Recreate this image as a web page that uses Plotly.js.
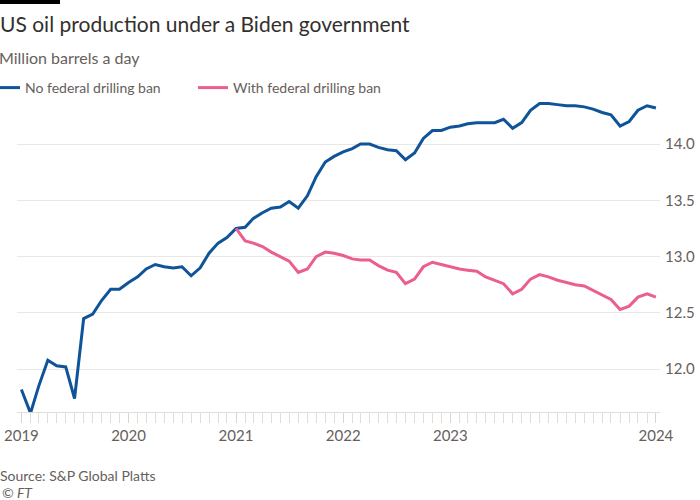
<!DOCTYPE html>
<html>
<head>
<meta charset="utf-8">
<script src="https://cdn.plot.ly/plotly-3.0.1.min.js"></script>
<style>
  html, body { margin: 0; padding: 0; background: #ffffff; }
  #chart { width: 700px; height: 500px; }
</style>
</head>
<body>
<div id="chart"></div>
<script>
// Monthly US crude output, million barrels a day, Jan 2019 - Dec 2024
const years = [2019, 2020, 2021, 2022, 2023, 2024];
const seriesNames = ['No federal drilling ban', 'With federal drilling ban'];

const noBan = [
  11.82, 11.61, 11.85, 12.08, 12.03, 12.02, 11.74, 12.45, 12.49, 12.61, 12.71, 12.71,
  12.77, 12.82, 12.89, 12.93, 12.91, 12.90, 12.91, 12.83, 12.90, 13.03, 13.12, 13.17,
  13.25, 13.26, 13.34, 13.39, 13.43, 13.44, 13.49, 13.43, 13.54, 13.71, 13.84, 13.89,
  13.93, 13.96, 14.00, 14.00, 13.97, 13.95, 13.94, 13.86, 13.92, 14.05, 14.12, 14.12,
  14.15, 14.16, 14.18, 14.19, 14.19, 14.19, 14.22, 14.14, 14.19, 14.30, 14.36, 14.36,
  14.35, 14.34, 14.34, 14.33, 14.31, 14.28, 14.26, 14.16, 14.20, 14.30, 14.34, 14.32
];

const withBan = [
  null, null, null, null, null, null, null, null, null, null, null, null,
  null, null, null, null, null, null, null, null, null, null, null, null,
  13.25, 13.14, 13.12, 13.09, 13.04, 13.00, 12.96, 12.86, 12.89, 13.00, 13.04, 13.03,
  13.01, 12.98, 12.97, 12.97, 12.92, 12.88, 12.86, 12.76, 12.80, 12.91, 12.95, 12.93,
  12.91, 12.89, 12.88, 12.87, 12.82, 12.79, 12.76, 12.67, 12.71, 12.80, 12.84, 12.82,
  12.79, 12.77, 12.75, 12.74, 12.70, 12.66, 12.62, 12.53, 12.56, 12.64, 12.67, 12.64
];

const yTickVals = [12.0, 12.5, 13.0, 13.5, 14.0];
const xTickVals = ['2019-01-01', '2020-01-01', '2021-01-01', '2022-01-01', '2023-01-01', '2024-12-01'];
const xTickText = ['2019', '2020', '2021', '2022', '2023', '2024'];

// one date per month, first of the month
const months = [];
years.forEach(function (y) {
  for (let m = 1; m <= 12; m++) {
    months.push(y + '-' + String(m).padStart(2, '0') + '-01');
  }
});

const FONT = 'Lato, "Open Sans", sans-serif';
const INK = '#33302e';
const GREY = '#66605c';
const GRID = '#ebe7e3';

const traces = [
  {
    x: months, y: noBan, name: seriesNames[0], type: 'scatter', mode: 'lines',
    line: { color: '#0f5499', width: 3 }, hoverinfo: 'skip'
  },
  {
    x: months, y: withBan, name: seriesNames[1], type: 'scatter', mode: 'lines',
    line: { color: '#eb5e8d', width: 3 }, connectgaps: false, hoverinfo: 'skip'
  }
];

const M = { l: 17, r: 40, t: 99, b: 88, autoexpand: false };
const plotW = 700 - M.l - M.r;
const plotH = 500 - M.t - M.b;
const px = function (x) { return (x - M.l) / plotW; };
const py = function (y) { return (500 - M.b - y) / plotH; };

const layout = {
  width: 700, height: 500,
  margin: M,
  paper_bgcolor: '#ffffff',
  plot_bgcolor: '#ffffff',
  font: { family: FONT, color: GREY, size: 15 },
  title: {
    text: 'US oil production under a Biden government',
    font: { family: FONT, size: 21, color: INK },
    x: 0, xref: 'container', xanchor: 'left',
    y: 1 - 25 / 500, yref: 'container', yanchor: 'middle'
  },
  showlegend: true,
  legend: {
    orientation: 'h',
    xref: 'paper', yref: 'paper',
    x: px(-15), xanchor: 'left',
    y: py(88), yanchor: 'middle',
    font: { family: FONT, size: 14, color: GREY },
    bgcolor: 'rgba(0,0,0,0)',
    entrywidth: 163, entrywidthmode: 'pixels',
    itemclick: false, itemdoubleclick: false
  },
  xaxis: {
    type: 'date',
    range: ['2018-12-17', '2024-12-15'],
    tickvals: xTickVals, ticktext: xTickText,
    ticks: 'outside', ticklen: 10, tickwidth: 1, tickcolor: '#d9d4cf',
    minor: { dtick: 'M1', tick0: '2019-01-01', ticks: 'outside', ticklen: 10, tickcolor: '#e2ddd8', showgrid: false },
    showgrid: false, zeroline: false,
    showline: true, linecolor: '#e2ddd8', linewidth: 1,
    tickfont: { family: FONT, size: 15, color: GREY },
    fixedrange: true
  },
  yaxis: {
    side: 'right',
    range: [11.62, 14.4],
    tickvals: yTickVals, tickformat: '.1f',
    ticks: '', showline: false, zeroline: false,
    showgrid: true, gridcolor: GRID, gridwidth: 1,
    ticklabelstandoff: 4,
    tickfont: { family: FONT, size: 15, color: GREY },
    fixedrange: true
  },
  shapes: [
    {
      type: 'rect', xref: 'paper', yref: 'paper',
      x0: px(0), x1: px(60), y0: py(4), y1: py(0),
      fillcolor: '#000000', line: { width: 0 }
    }
  ],
  annotations: [
    {
      text: 'Million barrels a day', xref: 'paper', yref: 'paper',
      x: px(0), y: py(57), xanchor: 'left', yanchor: 'middle', xshift: -3, showarrow: false,
      font: { family: FONT, size: 16, color: GREY }
    },
    {
      text: 'Source: S&P Global Platts', xref: 'paper', yref: 'paper',
      x: px(0), y: py(475), xanchor: 'left', yanchor: 'middle', xshift: -2, showarrow: false,
      font: { family: FONT, size: 14, color: GREY }
    },
    {
      text: '<i>© FT</i>', xref: 'paper', yref: 'paper',
      x: px(0), y: py(492), xanchor: 'left', yanchor: 'middle', xshift: 0, showarrow: false,
      font: { family: FONT, size: 14, color: GREY }
    }
  ]
};

Plotly.newPlot('chart', traces, layout, { staticPlot: true, displayModeBar: false });
</script>
</body>
</html>
